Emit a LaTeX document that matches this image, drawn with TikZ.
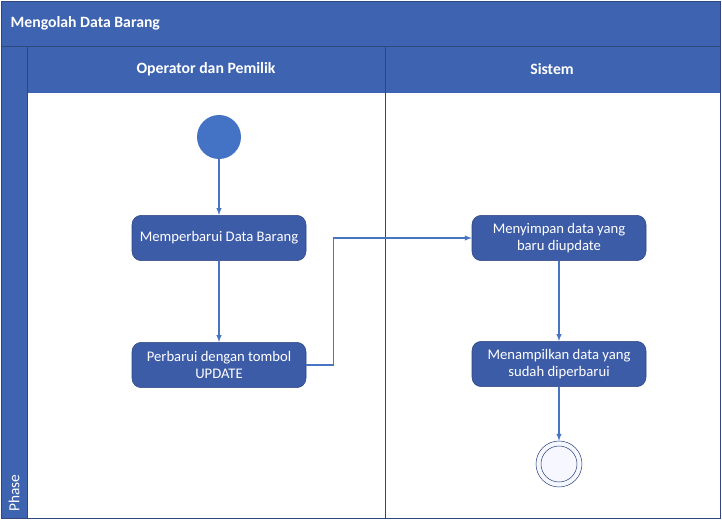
\documentclass[tikz,border=0pt]{standalone}
\usepackage{fontspec}
\setmainfont{Carlito}
\definecolor{laneblue}{RGB}{62,99,176}
\definecolor{laneedge}{RGB}{46,72,124}
\definecolor{actfill}{RGB}{61,92,168}
\definecolor{actedge}{RGB}{45,70,128}
\definecolor{flowblue}{RGB}{72,116,196}
\definecolor{startblue}{RGB}{68,114,196}
\begin{document}
\begin{tikzpicture}[x=0.75pt,y=-0.75pt,
        act/.style={draw=actedge, fill=actfill, rounded corners=7pt, minimum width=130.5pt,
            minimum height=34pt, text=white, align=center, font=\fontsize{11}{12.8}\selectfont},
        flow/.style={draw=flowblue, line width=0.8pt, -latex},
        head/.style={text=white, font=\bfseries\fontsize{11.8}{13}\selectfont}]
    \useasboundingbox (0,0) rectangle (722,524);
    % swimlane frame
    \fill[laneblue] (1,1) rectangle (720,93);
    \fill[laneblue] (1,46) rectangle (27,518);
    \draw[laneedge] (1,46) -- (720,46);
    \draw[laneedge] (27,46) -- (27,518);
    \draw[laneedge] (385,46) -- (385,518);
    \draw[laneedge] (1,1) rectangle (720,518);
    \node[head, anchor=west] (title) at (6,23) {Mengolah Data Barang};
    \node[head] (lane1) at (206,69) {Operator dan Pemilik};
    \node[head] (lane2) at (552,69) {Sistem};
    \node[text=white, rotate=90, font=\fontsize{11.5}{13}\selectfont] (phase) at (14,493) {Phase};
    % activities
    \node[circle, fill=startblue, minimum size=33pt, inner sep=0pt] (start) at (219,137) {};
    \node[act] (ubah) at (219,238) {Memperbarui Data Barang};
    \node[act] (upd) at (219,365) {Perbarui dengan tombol\\UPDATE};
    \node[act] (simpan) at (559,238) {Menyimpan data yang\\baru diupdate};
    \node[act] (tampil) at (559,364) {Menampilkan data yang\\sudah diperbarui};
    \node[circle, draw=actedge, fill=blue!3, minimum size=34.5pt, inner sep=0pt] (akhir) at (559,464) {};
    \draw[actedge] (akhir) circle (13.5pt);
    % flows
    \draw[flow] (start) -- (ubah);
    \draw[flow] (ubah) -- (upd);
    \draw[flow] (upd.east) -- ++(27,0) |- (simpan.west);
    \draw[flow] (simpan) -- (tampil);
    \draw[flow] (tampil) -- (akhir);
\end{tikzpicture}
\end{document}
